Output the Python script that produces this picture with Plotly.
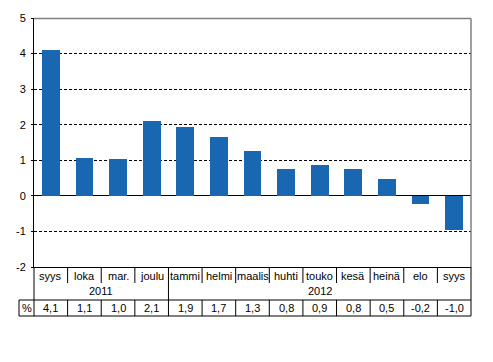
import plotly.graph_objects as go

months = ["syys", "loka", "mar.", "joulu", "tammi", "helmi", "maalis",
          "huhti", "touko", "kesä", "heinä", "elo", "syys"]
values = [4.10, 1.07, 1.04, 2.10, 1.94, 1.66, 1.25, 0.76, 0.86, 0.76, 0.48, -0.24, -0.95]
table_labels = ["4,1", "1,1", "1,0", "2,1", "1,9", "1,7", "1,3",
                "0,8", "0,9", "0,8", "0,5", "-0,2", "-1,0"]
years = ["2011", "2012"]
year_spans = [(0, 3), (4, 12)]
unit_label = "%"
y_ticks = [-2, -1, 0, 1, 2, 3, 4, 5]

W, H = 493, 362
L, R, T, B = 34, 22, 18, 95
PW, PH = W - L - R, H - T - B
FONT = "Liberation Sans, Arial, sans-serif"
n = len(months)


def py(p):  # pixel y -> paper y
    return (H - B - p) / PH


def px(p):  # pixel x -> paper x
    return (p - L) / PW


fig = go.Figure()
fig.add_trace(go.Bar(x=list(range(n)), y=values, width=0.53,
                     marker=dict(color="#1a67b1", line=dict(width=0))))

shapes = []
line_k = dict(color="black", width=1)
# top and right gray borders
shapes.append(dict(type="line", xref="paper", yref="paper", x0=0, x1=1, y0=py(18.5), y1=py(18.5),
                   line=dict(color="#808080", width=1.5)))
shapes.append(dict(type="line", xref="paper", yref="paper", x0=1, x1=1, y0=0, y1=py(18.5),
                   line=dict(color="#808080", width=1.5)))

y_lab_bot = py(283)
y_year_bot = py(300)
y_tab_bot = py(316)
# left and right table borders
shapes.append(dict(type="line", xref="paper", yref="paper", x0=0, x1=0, y0=y_tab_bot, y1=0, line=line_k))
shapes.append(dict(type="line", xref="paper", yref="paper", x0=1, x1=1, y0=y_tab_bot, y1=0, line=line_k))
# horizontal table lines
shapes.append(dict(type="line", xref="paper", yref="paper", x0=px(19), x1=1, y0=y_year_bot, y1=y_year_bot, line=line_k))
shapes.append(dict(type="line", xref="paper", yref="paper", x0=px(19), x1=1, y0=y_tab_bot, y1=y_tab_bot, line=line_k))
shapes.append(dict(type="line", xref="paper", yref="paper", x0=px(19), x1=px(19), y0=y_tab_bot, y1=y_year_bot, line=line_k))
# vertical separators
year_break = year_spans[0][1] + 0.5
for k in range(n - 1):
    xb = k + 0.5
    top_bottom = y_year_bot if xb == year_break else y_lab_bot
    shapes.append(dict(type="line", xref="x", yref="paper", x0=xb, x1=xb, y0=top_bottom, y1=0, line=line_k))
    shapes.append(dict(type="line", xref="x", yref="paper", x0=xb, x1=xb, y0=y_tab_bot, y1=y_year_bot, line=line_k))

annotations = []
tf = dict(family=FONT, size=11, color="black")
for i, m in enumerate(months):
    annotations.append(dict(x=i, y=py(276), xref="x", yref="paper", text=m, showarrow=False,
                            font=tf, xanchor="center", yanchor="middle"))
    annotations.append(dict(x=i, y=py(308), xref="x", yref="paper", text=table_labels[i], showarrow=False,
                            font=tf, xanchor="center", yanchor="middle"))
for yr, (a, b) in zip(years, year_spans):
    annotations.append(dict(x=(a + b) / 2, y=py(291), xref="x", yref="paper", text=yr, showarrow=False,
                            font=tf, xanchor="center", yanchor="middle"))
annotations.append(dict(x=px(26.5), y=py(308), xref="paper", yref="paper", text=unit_label, showarrow=False,
                        font=tf, xanchor="center", yanchor="middle"))

fig.update_layout(
    width=W, height=H,
    margin=dict(l=L, r=R, t=T, b=B, pad=0, autoexpand=False),
    paper_bgcolor="white", plot_bgcolor="white",
    showlegend=False, bargap=0,
    shapes=shapes, annotations=annotations,
    font=tf,
    xaxis=dict(range=[-0.5, n - 0.5], showticklabels=False, ticks="", showgrid=False,
               zeroline=False, showline=True, linecolor="black", linewidth=1, fixedrange=True,
               automargin=False),
    yaxis=dict(range=[-2, 5], tickvals=y_ticks, ticktext=[str(v) for v in y_ticks],
               showgrid=True, gridcolor="black", gridwidth=1, griddash="3px,2px",
               zeroline=True, zerolinecolor="black", zerolinewidth=1,
               showline=True, linecolor="black", linewidth=1,
               ticks="outside", ticklen=2, tickcolor="black", automargin=False, fixedrange=True,
               tickfont=dict(family=FONT, size=11, color="black"), ticklabelstandoff=3),
)

fig.write_html("out.html", config={"displayModeBar": False},
               post_script="document.body.style.margin='0px';")
